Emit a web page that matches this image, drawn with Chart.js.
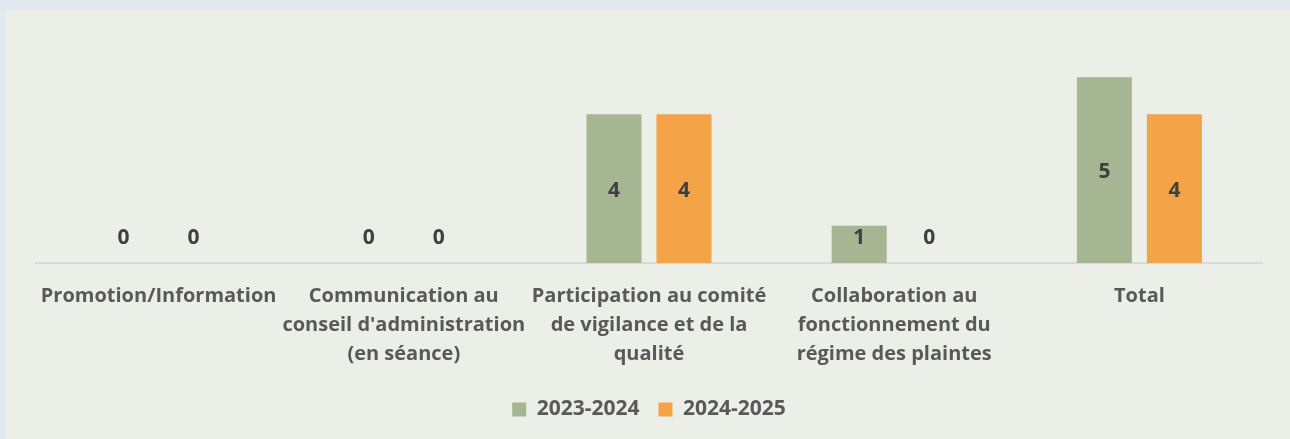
<!DOCTYPE html>
<html>
<head>
<meta charset="utf-8">
<script src="https://cdn.jsdelivr.net/npm/chart.js@4/dist/chart.umd.min.js"></script>
<style>
  html, body { margin: 0; padding: 0; background: #e3e9f1; }
  #panel { position: absolute; left: 6px; top: 10px; width: 1284px; height: 429px; background: #eceee8; }
</style>
</head>
<body>
<div id="panel"><canvas id="chart" width="1284" height="429"></canvas></div>
<script>
'use strict'

const categories = [
    ['Promotion/Information'],
    ['Communication au', "conseil d'administration", '(en séance)'],
    ['Participation au comité', 'de vigilance et de la', 'qualité'],
    ['Collaboration au', 'fonctionnement du', 'régime des plaintes'],
    ['Total']
];
const values2324 = [0, 0, 4, 1, 5];
const values2425 = [0, 0, 4, 0, 4];
const seriesNames = ['2023-2024', '2024-2025'];

const FONT = '"Open Sans", sans-serif';

// labels in the middle of each bar, small or zero values sit just above the axis
const barLabels = {
    id: 'barLabels',
    afterDatasetsDraw(chart) {
        const c = chart.ctx;
        c.save();
        c.font = 'bold 21px ' + FONT;
        c.fillStyle = '#404040';
        c.textAlign = 'center';
        c.textBaseline = 'middle';
        chart.data.datasets.forEach((ds, i) => {
            chart.getDatasetMeta(i).data.forEach((bar, j) => {
                const v = ds.data[j];
                const y = Math.min((bar.y + bar.base) / 2 + 2, bar.base - 25);
                c.fillText(String(v), bar.x, y);
            });
        });
        c.restore();
    }
};

const ctx = document.getElementById('chart').getContext('2d');
const chart = new Chart(ctx, {
    type: 'bar',
    data: {
        labels: categories,
        datasets: [
            {
                label: seriesNames[0],
                data: values2324,
                backgroundColor: '#a6b592',
                categoryPercentage: 0.571,
                barPercentage: 0.786
            },
            {
                label: seriesNames[1],
                data: values2425,
                backgroundColor: '#f4a446',
                categoryPercentage: 0.571,
                barPercentage: 0.786
            }
        ]
    },
    options: {
        responsive: false,
        animation: false,
        layout: {
            padding: { left: 30, right: 28, top: 30, bottom: 9 }
        },
        plugins: {
            legend: {
                position: 'bottom',
                labels: {
                    boxWidth: 14,
                    boxHeight: 14,
                    padding: 19,
                    color: '#595959',
                    font: { family: FONT, size: 21, weight: 'bold' }
                }
            },
            tooltip: { enabled: false }
        },
        scales: {
            x: {
                grid: { display: false },
                border: { display: true, color: '#d9d9d9', width: 2 },
                ticks: {
                    color: '#595959',
                    padding: 11,
                    maxRotation: 0,
                    autoSkip: false,
                    font: { family: FONT, size: 20, weight: 'bold', lineHeight: 1.45 }
                }
            },
            y: {
                display: false,
                min: 0,
                max: 6
            }
        }
    },
    plugins: [barLabels]
});
</script>
</body>
</html>
